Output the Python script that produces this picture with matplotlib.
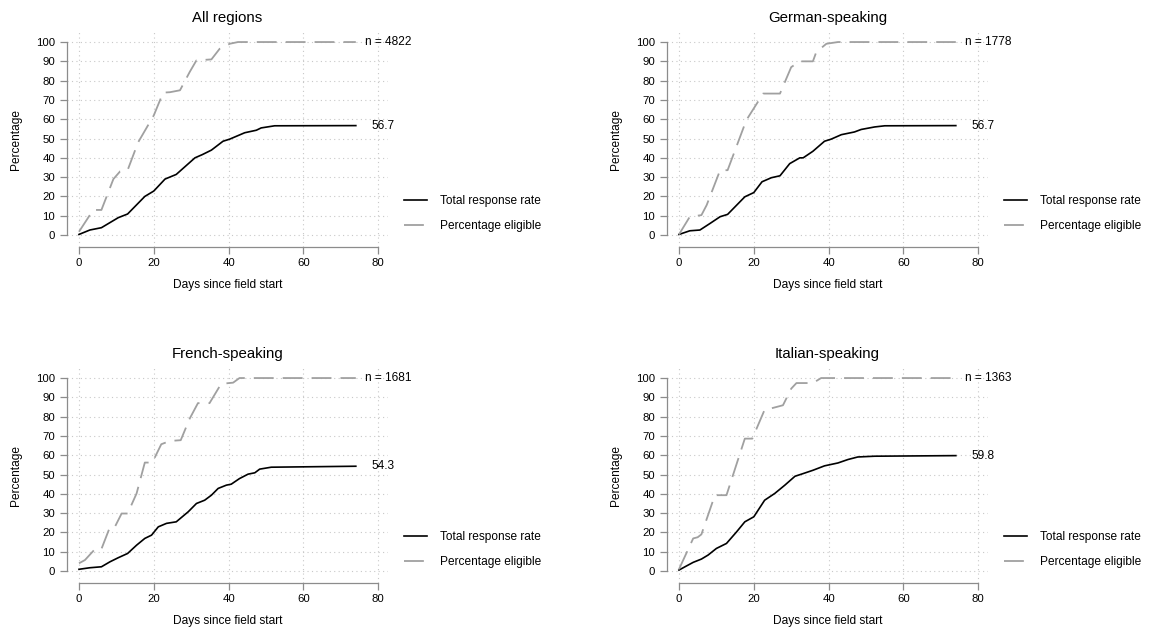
import matplotlib
matplotlib.use("Agg")
import matplotlib.pyplot as plt

plt.rcParams['font.family'] = ['Liberation Sans', 'DejaVu Sans']

# valores (dias desde o início, percentagem)
titulos = ["All regions", "German-speaking", "French-speaking", "Italian-speaking"]
n_casos = [4822, 1778, 1681, 1363]
taxa_final = [56.7, 56.7, 54.3, 59.8]

all_dias_resp = [0, 2.9, 6, 10.5, 13, 17.6, 20, 23, 26, 31, 33, 35.4, 38.5, 40.3, 44.3, 47.4, 48.7, 52.3, 74]
all_resp = [0.3, 2.6, 3.8, 9, 10.9, 20, 22.8, 29, 31.4, 40, 41.7, 44, 48.6, 49.7, 53, 54.3, 55.5, 56.6, 56.7]
all_dias_eleg = [0, 3.8, 6, 9.2, 11, 13, 15.8, 20, 22.5, 24.3, 27, 29.6, 31.4, 35.4, 37.6, 40.3, 42.5, 74]
all_eleg = [1.7, 13, 13, 29, 33, 33.6, 48, 62, 73.8, 74, 75, 84.5, 90.5, 91, 96.5, 99.1, 100, 100]

de_dias_resp = [0, 2.9, 5.6, 8.3, 11, 13, 17.6, 20, 22.2, 24.7, 27, 29.6, 32.3, 33.2, 35.8, 38.9, 40.7, 43.4, 46.9, 48.7, 52.3, 55, 74]
de_resp = [0.3, 2.2, 2.6, 6, 9.5, 10.7, 19.8, 22, 27.6, 29.7, 30.7, 37, 40, 40, 43.4, 48.6, 49.7, 52, 53.4, 54.7, 56, 56.6, 56.7]
de_dias_eleg = [0, 2.9, 6, 7.4, 11, 13, 18, 22.5, 27, 30, 32.3, 35.8, 36.7, 39.4, 42.5, 74]
de_eleg = [0.3, 9.5, 10.3, 15.5, 33.6, 33.6, 59.5, 73.3, 73.3, 87, 90, 90, 94.8, 99.1, 100, 100]

fr_dias_resp = [0, 2.9, 6, 8.3, 10.5, 13, 15.4, 17.6, 19.4, 21.2, 23.4, 26, 29.2, 31.4, 33.6, 35.4, 37.2, 39.4, 40.7, 42.9, 45.2, 47, 48.3, 51.4, 74]
fr_resp = [0.9, 1.7, 2.2, 4.8, 6.9, 9.1, 13.4, 16.9, 18.6, 22.9, 24.7, 25.5, 30.7, 35, 36.7, 39.3, 42.8, 44.5, 45, 47.9, 50.2, 50.9, 52.8, 53.8, 54.3]
fr_dias_eleg = [0, 1.6, 4.3, 6, 8.3, 9.6, 11.4, 13, 15.4, 17.6, 19.6, 22, 24.3, 27.2, 29.6, 31.8, 34.9, 38, 41.2, 42.9, 74]
fr_eleg = [4, 5.7, 11.4, 11.4, 22.9, 22.9, 29.8, 29.8, 40.2, 56.2, 56.2, 65.7, 67.4, 67.8, 79, 87, 87, 97, 97.6, 100, 100]

it_dias_resp = [0, 1.6, 3.8, 6, 7.8, 10, 12.7, 15.4, 17.6, 20, 22.9, 25.6, 28.3, 31, 33.2, 35.8, 38.9, 42.5, 45.2, 47.8, 52.3, 74]
it_resp = [0.5, 2.2, 4.5, 6.2, 8.3, 11.7, 14.3, 20.3, 25.5, 28.1, 36.7, 40.2, 44.5, 49.1, 50.5, 52.2, 54.5, 56, 57.8, 59.1, 59.5, 59.8]
it_dias_eleg = [0, 3.8, 5, 6, 9.6, 12.7, 17.6, 19.6, 22.9, 24.3, 27.8, 30, 31.4, 35.8, 38, 74]
it_eleg = [0.9, 16.9, 17.5, 19, 39.3, 39.3, 68.6, 68.6, 83.6, 84.1, 85.9, 94.5, 97.4, 97.4, 100, 100]

resp_dias = [all_dias_resp, de_dias_resp, fr_dias_resp, it_dias_resp]
resp = [all_resp, de_resp, fr_resp, it_resp]
eleg_dias = [all_dias_eleg, de_dias_eleg, fr_dias_eleg, it_dias_eleg]
eleg = [all_eleg, de_eleg, fr_eleg, it_eleg]

W, H = 1155, 634
fig = plt.figure(figsize=(W / 100, H / 100), dpi=100)

cinza_eixo = '#8c8c8c'
cinza_linha = '#a0a0a0'
fs = 8.6

# posições dos painéis em pixels: (esquerda, topo)
cantos = [(67, 32), (667, 32), (67, 368), (667, 368)]
larg, alt = 321, 215

for i in range(4):
    x0, y0 = cantos[i]
    ax = fig.add_axes([x0 / W, 1 - (y0 + alt) / H, larg / W, alt / H])
    ax.plot(resp_dias[i], resp[i], color='black', lw=1.2, label='Total response rate')
    ax.plot(eleg_dias[i], eleg[i], color=cinza_linha, lw=1.3, dashes=(11, 5),
            label='Percentage eligible')

    ax.set_xlim(-3.2, 82.6)
    ax.set_ylim(-6.2, 105.2)
    ax.set_xticks([0, 20, 40, 60, 80])
    ax.set_yticks(range(0, 101, 10))
    ax.grid(True, linestyle=(0, (1, 3)), color='#c8c8c8', lw=0.8)
    ax.set_axisbelow(True)

    for lado in ['top', 'right']:
        ax.spines[lado].set_visible(False)
    ax.spines['left'].set_bounds(0, 100)
    ax.spines['bottom'].set_bounds(0, 80)
    for lado in ['left', 'bottom']:
        ax.spines[lado].set_color(cinza_eixo)
        ax.spines[lado].set_linewidth(0.9)
    ax.tick_params(axis='y', length=5, width=0.9, color=cinza_eixo, pad=3.5, labelsize=8.2)
    ax.tick_params(axis='x', length=5, width=0.9, color=cinza_eixo, pad=3, labelsize=8.2)

    ax.set_title(titulos[i], fontsize=10.8, pad=7)
    ax.set_xlabel('Days since field start', fontsize=fs, labelpad=8)
    ax.set_ylabel('Percentage', fontsize=fs, labelpad=10)

    ax.text(76.5, 100, 'n = %d' % n_casos[i], fontsize=fs, ha='left', va='center')
    ax.text(78.1, taxa_final[i], '%.1f' % taxa_final[i], fontsize=fs, ha='left', va='center')

    ax.legend(loc='upper left', bbox_to_anchor=((x0 + 337) / W, 1 - (y0 + 163) / H),
              bbox_transform=fig.transFigure, frameon=False, fontsize=fs,
              borderpad=0, borderaxespad=0, handlelength=1.9, handletextpad=1.15,
              labelspacing=1.1)

fig.savefig('out.png', dpi=100)
